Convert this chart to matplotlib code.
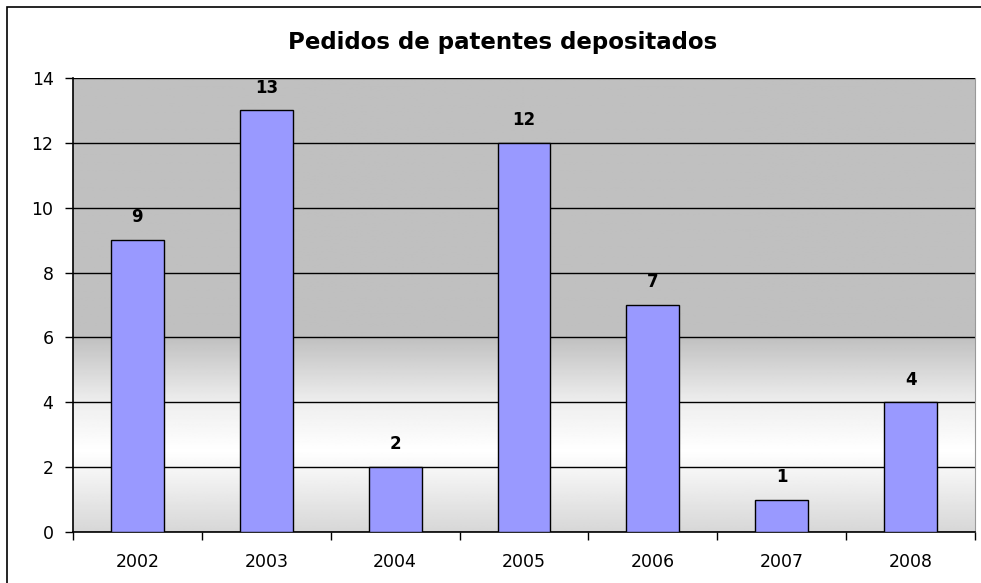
import matplotlib.pyplot as plt
import numpy as np
from matplotlib.patches import Rectangle

plt.rcParams['font.family'] = ['DejaVu Sans']

years = ['2002', '2003', '2004', '2005', '2006', '2007', '2008']
pedidos = [9, 13, 2, 12, 7, 1, 4]

fig = plt.figure(figsize=(9.81, 5.83), dpi=100)
ax = fig.add_axes([73 / 981, 51 / 583, 902 / 981, 454 / 583])

# outer chart border
fig.patches.append(Rectangle((7 / 981, -0.1), 1.2, (583 - 7) / 583 + 0.1,
                             transform=fig.transFigure, fill=False,
                             edgecolor='black', linewidth=1.2))

# background gradient (gray top -> white -> light gray bottom)
yv = np.linspace(0, 14, 400)
shade = np.interp(yv, [0, 2.5, 4, 6, 14], [215, 255, 238, 192, 192]) / 255.0
grad = np.repeat(shade[:, None], 2, axis=1)
ax.imshow(grad, cmap='gray', vmin=0, vmax=1, origin='lower', aspect='auto',
          extent=[-0.5, 6.5, 0, 14], zorder=0)

x = np.arange(len(years))
bars = ax.bar(x, pedidos, width=0.41, color='#9999FF', edgecolor='black',
              linewidth=1.0, zorder=3)

for xi, v in zip(x, pedidos):
    ax.text(xi, v + 0.7, str(v), ha='center', va='center', fontsize=12,
            fontweight='bold')

ax.set_xlim(-0.5, 6.5)
ax.set_ylim(0, 14)
ax.set_yticks(range(0, 15, 2))
ax.set_xticks(x)
ax.set_xticklabels(years)
ax.set_xticks(np.arange(-0.5, 7, 1), minor=True)
ax.tick_params(axis='x', which='major', length=0, pad=15, labelsize=12.5)
ax.tick_params(axis='x', which='minor', length=6, width=1, direction='out')
ax.tick_params(axis='y', length=6, width=1, direction='out', labelsize=12.5, pad=8)

ax.grid(axis='y', color='black', linewidth=1.0, zorder=1)
ax.set_axisbelow(True)
ax.spines['right'].set_color('#999999')
ax.spines['top'].set_visible(False)
ax.spines['left'].set_linewidth(1.2)
ax.spines['bottom'].set_linewidth(1.2)

fig.text(503 / 981, 1 - 43 / 583, 'Pedidos de patentes depositados', ha='center',
         va='center', fontsize=16.5, fontweight='bold')

fig.savefig('out.png', dpi=100)
